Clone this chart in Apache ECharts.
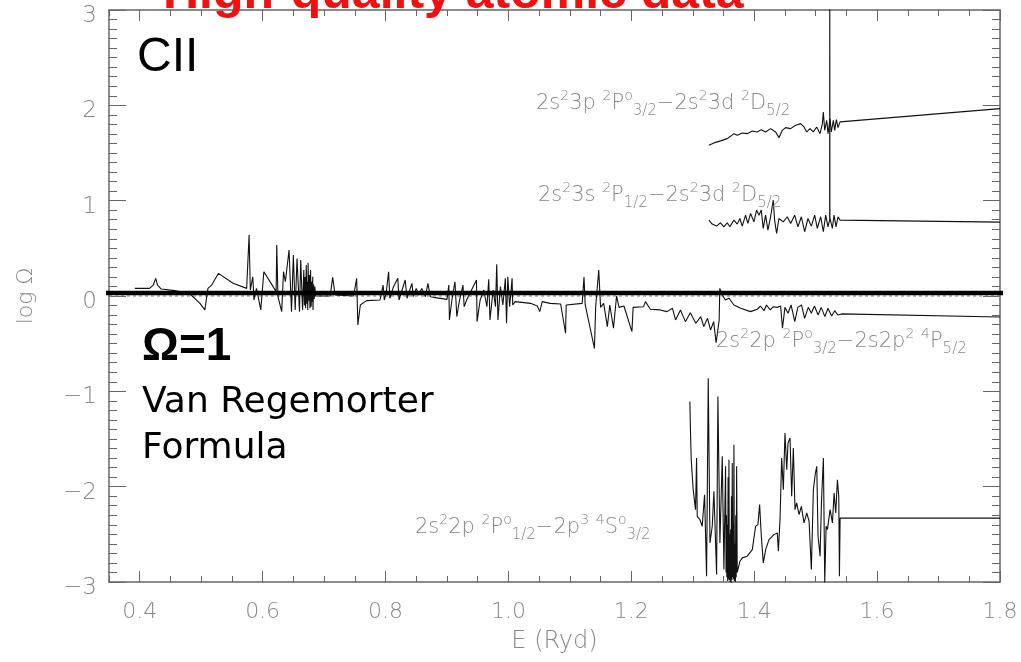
<!DOCTYPE html>
<html>
<head>
<meta charset="utf-8">
<script src="https://cdn.jsdelivr.net/npm/echarts@6/dist/echarts.min.js"></script>
<style>html,body{margin:0;padding:0;background:#fff}#c{width:1021px;height:662px}</style>
</head>
<body>
<div id="c"></div>
<script>
// ---- data ----
var xMajorTicks = [0.4, 0.6, 0.8, 1.0, 1.2, 1.4, 1.6, 1.8];
var xMinorTicks = [0.35,0.45,0.5,0.55,0.65,0.7,0.75,0.85,0.9,0.95,1.05,1.1,1.15,1.25,1.3,1.35,1.45,1.5,1.55,1.65,1.7,1.75];
var omegaOneLevel = [[0.339, 0.031], [1.808, 0.031]];
var zeroLevel = [[0.35, 0], [1.8, 0]];

// 2s2 2p 2P°3/2 - 2s 2p2 4P5/2
var seriesP32P52 = [
[0.392,0.080],[0.416,0.080],[0.422,0.115],[0.426,0.185],[0.429,0.115],[0.435,0.073],[0.457,0.056],[0.482,0.021],[0.498,-0.077],[0.506,-0.146],[0.511,0.080],[0.517,0.115],[0.528,0.237],[0.552,0.133],[0.574,0.080],[0.578,0.639],[0.580,0.063],[0.584,0.202],[0.586,-0.042],[0.590,0.080],[0.597,-0.146],[0.602,0.255],[0.617,0.098],[0.622,0.046],[0.623,0.534],[0.625,-0.007],[0.631,-0.164],[0.634,0.255],[0.637,0.150],[0.643,0.482],[0.647,-0.164],[0.650,0.429],[0.653,-0.146],[0.656,0.394],[0.660,-0.164],[0.662,0.377],[0.665,-0.146],[0.667,0.272],[0.668,-0.100],[0.669,0.200],[0.670,-0.129],[0.671,0.325],[0.672,-0.080],[0.673,0.150],[0.6735,-0.146],[0.674,0.349],[0.675,-0.050],[0.676,0.220],[0.677,-0.129],[0.678,0.272],[0.679,-0.112],[0.680,0.150],[0.681,-0.060],[0.6815,0.202],[0.682,-0.146],[0.683,0.120],[0.684,-0.030],[0.685,0.098],[0.686,0.000],[0.710,0.000],[0.714,0.196],[0.718,0.010],[0.748,0.000],[0.753,0.185],[0.755,-0.303],[0.759,-0.094],[0.769,-0.049],[0.791,-0.042],[0.796,0.115],[0.798,-0.042],[0.801,0.028],[0.805,0.255],[0.807,-0.024],[0.813,0.098],[0.820,0.185],[0.822,-0.042],[0.832,0.168],[0.835,-0.024],[0.843,0.133],[0.845,-0.007],[0.850,0.080],[0.854,0.010],[0.859,0.080],[0.865,-0.007],[0.869,0.133],[0.873,-0.007],[0.878,-0.014],[0.900,-0.035],[0.903,0.115],[0.904,-0.251],[0.908,-0.042],[0.913,0.150],[0.916,-0.216],[0.920,-0.059],[0.926,0.115],[0.928,-0.112],[0.932,-0.042],[0.948,0.168],[0.949,-0.269],[0.954,-0.042],[0.960,0.063],[0.965,-0.112],[0.968,0.175],[0.970,-0.251],[0.975,0.063],[0.979,-0.112],[0.981,0.332],[0.983,-0.251],[0.987,0.098],[0.991,-0.094],[0.995,0.185],[0.997,-0.286],[0.999,0.202],[1.002,-0.112],[1.006,0.185],[1.007,-0.094],[1.011,-0.059],[1.036,-0.077],[1.047,-0.105],[1.051,-0.164],[1.055,-0.059],[1.068,-0.077],[1.085,-0.084],[1.093,-0.391],[1.094,-0.094],[1.120,-0.077],[1.123,0.200],[1.125,-0.094],[1.140,-0.550],[1.142,-0.112],[1.147,0.272],[1.150,-0.119],[1.155,-0.077],[1.161,-0.321],[1.165,-0.094],[1.171,-0.338],[1.176,0.000],[1.180,-0.119],[1.188,-0.105],[1.201,-0.373],[1.203,-0.119],[1.220,-0.112],[1.223,-0.059],[1.231,-0.139],[1.247,-0.146],[1.258,-0.164],[1.267,-0.129],[1.272,-0.251],[1.280,-0.146],[1.288,-0.269],[1.296,-0.175],[1.305,-0.286],[1.313,-0.216],[1.318,-0.321],[1.324,-0.234],[1.329,-0.356],[1.334,-0.269],[1.338,-0.490],[1.343,-0.251],[1.344,0.080],[1.348,0.010],[1.353,-0.042],[1.359,-0.024],[1.367,-0.094],[1.378,-0.129],[1.394,-0.164],[1.405,-0.139],[1.410,-0.105],[1.416,-0.154],[1.420,-0.094],[1.426,-0.146],[1.431,-0.112],[1.438,-0.119],[1.443,-0.105],[1.446,-0.338],[1.450,-0.119],[1.455,-0.181],[1.460,-0.094],[1.466,-0.269],[1.471,-0.119],[1.477,-0.094],[1.482,-0.234],[1.488,-0.119],[1.493,-0.181],[1.498,-0.105],[1.504,-0.199],[1.509,-0.119],[1.515,-0.216],[1.520,-0.129],[1.526,-0.209],[1.531,-0.154],[1.536,-0.199],[1.542,-0.188],[1.800,-0.220]
];

// 2s2 3p 2P°3/2 - 2s2 3d 2D5/2
var series3p3d = [
[1.3262,1.581],[1.3343,1.606],[1.3452,1.627],[1.3561,1.651],[1.3615,1.675],[1.3670,1.703],[1.3724,1.686],[1.3805,1.710],[1.3887,1.703],[1.3968,1.731],[1.4050,1.721],[1.4115,1.745],[1.4185,1.721],[1.4267,1.756],[1.4348,1.721],[1.4403,1.661],[1.4457,1.738],[1.4511,1.766],[1.4593,1.756],[1.4674,1.791],[1.4756,1.808],[1.4810,1.773],[1.4854,1.721],[1.4908,1.756],[1.4962,1.721],[1.5017,1.773],[1.5071,1.703],[1.5109,1.808],[1.5125,1.930],[1.5147,1.738],[1.5180,1.843],[1.5201,1.703],[1.5234,1.861],[1.5255,1.721],[1.5288,1.843],[1.5310,1.738],[1.5337,1.850],[1.5364,1.766],[1.5397,1.826],[1.8000,1.965]
];

// 2s2 3s 2P1/2 - 2s2 3d 2D5/2
var series3s3d = [
[1.3262,0.796],[1.3316,0.754],[1.3387,0.733],[1.3452,0.768],[1.3506,0.726],[1.3561,0.768],[1.3604,0.726],[1.3670,0.796],[1.3724,0.754],[1.3767,0.813],[1.3805,0.733],[1.3860,0.848],[1.3897,0.761],[1.3941,0.866],[1.3995,0.778],[1.4039,0.901],[1.4077,0.848],[1.4115,0.901],[1.4147,0.709],[1.4185,0.848],[1.4223,0.691],[1.4267,0.831],[1.4310,1.005],[1.4332,0.796],[1.4365,0.656],[1.4402,0.813],[1.4473,0.778],[1.4538,0.831],[1.4593,0.761],[1.4658,0.848],[1.4712,0.726],[1.4767,0.831],[1.4821,0.674],[1.4875,0.813],[1.4930,0.733],[1.4984,0.848],[1.5027,0.709],[1.5082,0.831],[1.5125,0.674],[1.5163,0.848],[1.5201,0.726],[1.5228,0.800],[1.5230,3.500],[1.5232,0.820],[1.5272,0.709],[1.5299,0.848],[1.5332,0.726],[1.5364,0.831],[1.5397,0.796],[1.8000,0.775]
];

// 2s2 2p 2P°1/2 - 2p3 4S°3/2
var series2p4S = [
[1.2953,-1.106],[1.2964,-1.450],[1.2975,-1.717],[1.3007,-2.031],[1.3045,-2.241],[1.3062,-1.700],[1.3073,-2.311],[1.3116,-2.346],[1.3154,-2.415],[1.3192,-2.084],[1.3225,-2.939],[1.3252,-0.862],[1.3280,-2.590],[1.3317,-2.415],[1.3344,-2.049],[1.3388,-2.921],[1.3409,-1.054],[1.3442,-2.590],[1.3480,-1.682],[1.3507,-2.869],[1.3534,-1.787],[1.3542,-2.900],[1.3548,-2.300],[1.3555,-2.950],[1.3562,-2.400],[1.3568,-2.990],[1.3575,-1.900],[1.3582,-2.970],[1.3589,-1.717],[1.3595,-2.980],[1.3602,-2.500],[1.3609,-3.000],[1.3616,-2.450],[1.3623,-3.010],[1.3630,-2.100],[1.3637,-2.980],[1.3643,-1.752],[1.3650,-2.950],[1.3657,-2.400],[1.3663,-2.970],[1.3670,-1.560],[1.3678,-2.990],[1.3687,-2.600],[1.3694,-3.000],[1.3700,-2.300],[1.3707,-2.950],[1.3714,-1.787],[1.3724,-2.900],[1.3735,-2.869],[1.3768,-2.782],[1.3806,-2.747],[1.3887,-2.729],[1.3969,-2.660],[1.4023,-2.415],[1.4061,-2.398],[1.4088,-2.188],[1.4116,-2.520],[1.4148,-2.799],[1.4186,-2.660],[1.4241,-2.555],[1.4322,-2.503],[1.4376,-2.485],[1.4393,-2.677],[1.4420,-2.346],[1.4447,-1.700],[1.4474,-2.031],[1.4501,-1.438],[1.4529,-1.822],[1.4550,-1.543],[1.4583,-1.490],[1.4610,-2.101],[1.4637,-1.595],[1.4664,-2.241],[1.4691,-2.171],[1.4730,-2.293],[1.4767,-2.206],[1.4811,-2.380],[1.4855,-2.276],[1.4893,-2.363],[1.4930,-2.869],[1.4963,-2.031],[1.4996,-1.857],[1.5018,-1.787],[1.5039,-2.520],[1.5072,-2.729],[1.5094,-2.171],[1.5126,-1.700],[1.5148,-3.009],[1.5170,-2.415],[1.5191,-2.450],[1.5235,-2.241],[1.5273,-2.380],[1.5300,-2.066],[1.5327,-2.276],[1.5354,-1.927],[1.5376,-2.101],[1.5387,-2.939],[1.5398,-2.328],[1.8000,-2.330]
];

// ---- chart ----
var GRAY = '#888';
var AXIS = '#666';
var thinFont = 'DejaVu Sans';
var chart = echarts.init(document.getElementById('c'), null, {renderer: 'canvas'});

function baseX(pos, major, showLabel) {
  return {
    type: 'value', position: pos, min: 0.35, max: 1.8,
    axisLine: {show: major, onZero: false, lineStyle: {color: AXIS, width: 1.5}},
    axisTick: {show: true, inside: true, length: major ? 11 : 6,
      customValues: major ? xMajorTicks : xMinorTicks, lineStyle: {color: AXIS, width: 1}},
    axisLabel: showLabel ? {show: true, customValues: xMajorTicks, margin: 19,
      formatter: function (v) { return v.toFixed(1); },
      color: GRAY, fontSize: 22, fontFamily: thinFont, fontWeight: 200} : {show: false},
    splitLine: {show: false}
  };
}
function baseY(pos, showLabel) {
  return {
    type: 'value', position: pos, min: -3, max: 3, interval: 1,
    axisLine: {show: true, onZero: false, lineStyle: {color: AXIS, width: 1.5}},
    axisTick: {show: true, inside: true, length: 17, lineStyle: {color: AXIS, width: 1}},
    minorTick: {show: true, splitNumber: 10, length: 8, lineStyle: {color: AXIS, width: 1}},
    axisLabel: showLabel ? {show: true, margin: 12,
      formatter: function (v) { return '{t|' + (v < 0 ? '\u2212' + (-v) : String(v)) + '}'; },
      rich: {t: {color: GRAY, fontSize: 23, fontFamily: thinFont, fontWeight: 200, lineHeight: 24, padding: [12, 0, 0, 0]}}
    } : {show: false},
    splitLine: {show: false}, minorSplitLine: {show: false}
  };
}

var xAxes = [baseX('bottom', true, true), baseX('bottom', false, false), baseX('top', true, false), baseX('top', false, false)];
xAxes[0].name = 'E (Ryd)';
xAxes[0].nameLocation = 'middle';
xAxes[0].nameGap = 48;
xAxes[0].nameTextStyle = {color: GRAY, fontSize: 24, fontFamily: thinFont, fontWeight: 200};
var yAxes = [baseY('left', true), baseY('right', false)];
yAxes[0].name = 'log \u03a9';
yAxes[0].nameLocation = 'middle';
yAxes[0].nameGap = 72;
yAxes[0].nameTextStyle = {color: GRAY, fontSize: 22, fontFamily: thinFont, fontWeight: 200};

function lineSeries(data, extra) {
  var s = {type: 'line', data: data, xAxisIndex: 0, yAxisIndex: 0, showSymbol: false, symbol: 'none',
    animation: false, silent: true, lineStyle: {color: '#111', width: 1.1}, z: 3};
  if (extra) for (var k in extra) s[k] = extra[k];
  return s;
}

var richLab = {
  m: {fontSize: 21, lineHeight: 30, color: GRAY, fontFamily: thinFont, fontWeight: 200, verticalAlign: 'middle'},
  p: {fontSize: 14, lineHeight: 10, color: GRAY, fontFamily: thinFont, fontWeight: 200, verticalAlign: 'top'},
  b: {fontSize: 15, lineHeight: 22, color: GRAY, fontFamily: thinFont, fontWeight: 200, verticalAlign: 'bottom'}
};
function lab(text, left, top) {
  return {text: text, left: left, top: top, padding: 0, textStyle: {rich: richLab}};
}
function big(text, left, top, size, family, weight, color) {
  return {text: text, left: left, top: top, padding: 0,
    textStyle: {fontSize: size, lineHeight: size, fontFamily: family, fontWeight: weight, color: color}};
}

var option = {
  backgroundColor: '#fff',
  animation: false,
  grid: {left: 109, right: 21, top: 10, bottom: 80, containLabel: false, outerBoundsMode: 'none'},
  xAxis: xAxes,
  yAxis: yAxes,
  title: [
    big('High-quality atomic data', 163, -31, 50, 'Liberation Sans', 'bold', '#f01010'),
    big('CII', 137, 34, 48, 'Liberation Sans', 'normal', '#000'),
    big('\u03a9=1', 142, 324, 46, 'Liberation Sans', 'bold', '#000'),
    big('Van Regemorter', 142, 385, 36, 'DejaVu Sans', 'normal', '#000'),
    big('Formula', 142, 431, 36, 'DejaVu Sans', 'normal', '#000'),
    lab('{m|2s}{p|2}{m|3p }{p|2}{m|P}{p|o}{b|3/2}{m|\u22122s}{p|2}{m|3d }{p|2}{m|D}{b|5/2}', 536, 89),
    lab('{m|2s}{p|2}{m|3s }{p|2}{m|P}{b|1/2}{m|\u22122s}{p|2}{m|3d }{p|2}{m|D}{b|5/2}', 538, 181),
    lab('{m|2s}{p|2}{m|2p }{p|2}{m|P}{p|o}{b|3/2}{m|\u22122s2p}{p|2}{m| }{p|4}{m|P}{b|5/2}', 716, 327),
    lab('{m|2s}{p|2}{m|2p }{p|2}{m|P}{p|o}{b|1/2}{m|\u22122p}{p|3}{m| }{p|4}{m|S}{p|o}{b|3/2}', 415, 513)
  ],
  series: [
    lineSeries(zeroLevel, {lineStyle: {color: '#777', width: 1, type: [3, 3]}, z: 2}),
    lineSeries(seriesP32P52),
    lineSeries(series3p3d),
    lineSeries(series3s3d),
    lineSeries(series2p4S),
    lineSeries(omegaOneLevel, {lineStyle: {color: '#000', width: 4.5}, clip: false, z: 4})
  ]
};
chart.setOption(option);
</script>
</body>
</html>
